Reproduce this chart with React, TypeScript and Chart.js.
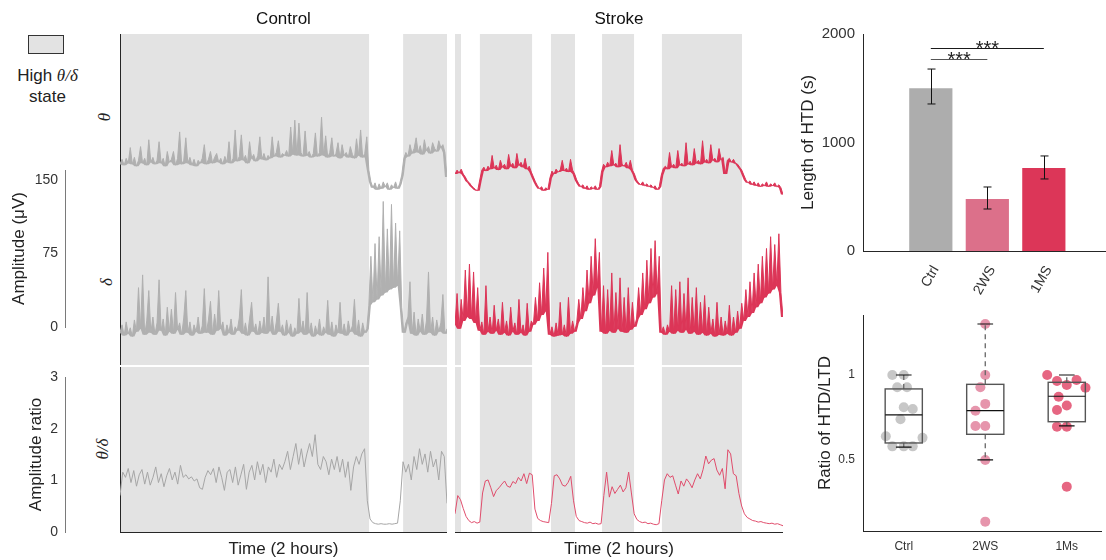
import React, { useEffect, useRef } from 'react';
import { Chart, registerables } from 'chart.js';

Chart.register(...registerables);

const FONT = "'Liberation Sans', Arial, Helvetica, sans-serif";
const SERIF = "'Liberation Serif', 'DejaVu Serif', serif";
Chart.defaults.font.family = FONT;
Chart.defaults.color = '#333';

// ---------------- Data ----------------
const TIME_SPAN = 120; // minutes (2 hours)

// High theta/delta state intervals (minutes)
const ctrlHighStates = [[0, 91.4], [103.9, 120]];
const strokeHighStates = [[0, 2.2], [9.1, 28.2], [35.1, 43.9], [53.8, 65.5], [75.7, 105.0]];

// Amplitudes (uV), stacked with offsets below
const ctrlTheta = [
  46, 51, 45, 52, 47, 63, 46, 53, 44, 50,
  64, 47, 52, 45, 71, 48, 53, 46, 50, 69,
  47, 52, 44, 59, 48, 51, 59, 45, 52, 79,
  46, 50, 73, 47, 53, 45, 51, 44, 50, 47,
  52, 66, 46, 51, 59, 47, 53, 57, 48, 52,
  46, 54, 48, 69, 47, 52, 81, 49, 54, 76,
  50, 55, 47, 69, 52, 56, 49, 55, 74, 51,
  57, 50, 55, 52, 74, 54, 58, 70, 53, 57,
  55, 60, 54, 84, 56, 91, 55, 88, 58, 54,
  80, 55, 59, 53, 57, 78, 54, 58, 94, 55,
  75, 53, 58, 73, 54, 57, 68, 52, 66, 55,
  58, 53, 64, 56, 52, 72, 55, 81, 53, 57,
  74, 40, 28, 22, 27, 20, 26, 21, 28, 23,
  27, 20, 25, 22, 28, 21, 26, 35, 52, 58,
  54, 66, 57, 62, 73, 58, 65, 56, 71, 60,
  64, 57, 68, 62, 59, 70, 63, 66, 58, 33,
];

const ctrlDelta = [
  14, 22, 11, 25, 13, 19, 10, 27, 15, 60,
  18, 73, 12, 26, 57, 14, 30, 12, 24, 68,
  16, 28, 11, 40, 15, 38, 13, 55, 17, 24,
  12, 29, 57, 14, 25, 11, 22, 15, 30, 13,
  21, 59, 14, 27, 46, 12, 33, 16, 57, 18,
  25, 11, 22, 14, 28, 12, 20, 16, 29, 58,
  13, 24, 11, 28, 45, 15, 23, 12, 26, 14,
  30, 13, 71, 16, 31, 12, 25, 44, 15, 22,
  11, 27, 14, 23, 10, 19, 13, 49, 15, 26,
  12, 55, 14, 24, 10, 21, 13, 28, 11, 20,
  14, 47, 12, 25, 10, 22, 14, 45, 13, 23,
  11, 26, 15, 21, 48, 12, 27, 10, 24, 14,
  18, 42, 92, 45, 105, 48, 112, 52, 148, 55,
  120, 58, 145, 60, 126, 62, 118, 40, 14, 24,
  30, 66, 13, 35, 11, 28, 15, 33, 12, 26,
  76, 14, 30, 11, 27, 15, 24, 53, 13, 18,
];

const ctrlRatio = [
  0.70, 1.15, 1.05, 1.22, 0.95, 1.18, 0.88, 1.10, 1.20, 0.92,
  1.15, 0.90, 1.05, 1.25, 0.95, 1.12, 0.87, 1.08, 1.22, 1.00,
  1.15, 0.92, 1.28, 1.05, 1.10, 1.02, 1.06, 0.98, 1.02, 0.85,
  0.82, 1.05, 1.18, 1.10, 1.22, 0.95, 1.25, 1.05, 0.80, 1.15,
  1.20, 0.95, 1.25, 0.90, 1.10, 1.30, 0.82, 1.15, 1.28, 1.00,
  1.35, 1.10, 1.30, 0.95, 1.25, 1.15, 1.40, 1.05, 1.30, 1.20,
  1.35, 1.55, 1.20, 1.45, 1.70, 1.30, 1.60, 1.25, 1.50, 1.70,
  1.45, 1.87, 1.30, 1.20, 1.45, 1.35, 1.10, 1.40, 1.20, 1.45,
  1.15, 1.40, 1.05, 1.35, 0.80, 1.25, 1.45, 1.30, 1.50, 1.60,
  0.60, 0.25, 0.18, 0.16, 0.15, 0.16, 0.15, 0.15, 0.16, 0.15,
  0.16, 0.17, 0.60, 1.35, 1.15, 1.30, 1.00, 1.45, 1.20, 1.60,
  1.30, 1.50, 1.15, 1.55, 1.25, 1.40, 1.00, 1.55, 1.45, 0.55,
];

const strokeTheta = [
  36, 40, 37, 41, 36, 33, 29, 27, 24, 22, 20, 19,
  30, 40, 43, 39, 44, 41, 55, 42, 45, 40, 50, 43, 46, 41, 56, 44, 47, 42, 57, 45, 48, 43, 52, 41, 44, 38,
  33, 28, 24, 21, 23, 19, 22, 20,
  32, 39, 36, 41, 38, 40, 50, 39, 42, 38, 51, 40, 36,
  30, 26, 23, 25, 21, 24, 20, 23, 21, 24, 20, 23,
  38, 46, 43, 48, 44, 60, 45, 47, 43, 66, 46, 44, 48, 42, 50, 40, 36,
  30, 27, 25, 28, 24, 26, 23, 25, 22, 24, 20, 23,
  35, 42, 44, 41, 58, 43, 46, 42, 60, 45, 47, 44, 68, 46, 49, 45, 62, 47, 50, 46,
  70, 48, 51, 47, 66, 50, 52, 48, 62, 51, 53, 36, 50, 52, 48, 51, 47, 46, 43, 40,
  35, 30, 27, 29, 25, 28, 24, 27, 23, 26, 24, 28, 23, 26, 24, 27, 23, 25, 22, 15,
];

const strokeDelta = [
  22, 54, 18, 48, 26, 78, 30, 84, 28, 76, 24, 60,
  16, 25, 12, 62, 15, 30, 13, 42, 16, 28, 12, 45, 14, 26, 11, 40, 15, 24, 12, 48, 14, 22, 11, 44, 15, 26,
  22, 50, 26, 65, 32, 80, 36, 96,
  12, 20, 10, 24, 11, 45, 12, 22, 10, 50, 13, 26, 15,
  24, 48, 28, 60, 36, 78, 44, 92, 52, 110, 60, 96,
  15, 62, 13, 58, 16, 75, 14, 55, 18, 70, 15, 50, 14, 60, 17, 45, 20,
  28, 60, 32, 75, 38, 88, 44, 100, 50, 108, 54, 92,
  14, 20, 12, 22, 15, 62, 13, 58, 16, 66, 14, 54, 17, 70, 13, 50, 15, 60, 12, 45,
  14, 52, 11, 40, 13, 28, 10, 45, 12, 30, 11, 26, 13, 42, 11, 30, 14, 36, 18, 44,
  26, 58, 30, 66, 34, 75, 40, 84, 44, 92, 50, 100, 54, 112, 58, 104, 62, 115, 55, 30,
];

const strokeRatio = [
  0.35, 0.70, 0.62, 0.45, 0.30, 0.22, 0.18, 0.20, 0.17, 0.19,
  0.75, 0.98, 1.00, 0.85, 0.68, 0.80, 0.85, 0.92, 0.98, 0.88,
  0.86, 0.97, 0.93, 1.05, 0.98, 1.12, 0.93, 1.13, 1.10, 0.44,
  0.26, 0.22, 0.20, 0.19, 0.18, 0.55, 1.08, 1.10, 1.02, 0.90,
  0.88, 0.95, 1.07, 0.60, 0.30, 0.22, 0.20, 0.18, 0.17, 0.19,
  0.16, 0.17, 0.15, 0.16, 0.70, 1.15, 0.67, 0.87, 0.74, 0.82,
  0.90, 0.77, 0.85, 1.15, 0.75, 0.35, 0.24, 0.20, 0.18, 0.19,
  0.16, 0.17, 0.15, 0.14, 0.16, 0.60, 1.00, 1.12, 1.05, 1.08,
  0.90, 0.73, 0.98, 0.88, 1.02, 0.95, 0.85, 1.00, 1.12, 1.02,
  1.20, 1.46, 1.31, 1.38, 1.41, 1.19, 1.09, 1.22, 0.83, 1.58,
  1.50, 1.12, 1.08, 0.74, 0.50, 0.35, 0.28, 0.25, 0.22, 0.21,
  0.19, 0.20, 0.18, 0.17, 0.16, 0.17, 0.15, 0.16, 0.14, 0.12,
];

const amplitudeTicks = [0, 75, 150];
const ratioTicks = [0, 1, 2, 3];

// Length of HTD bar chart
const barGroups = ['Ctrl', '2WS', '1MS'];
const htdMean = [1510, 489, 774];
const htdErrLow = [1355, 387, 664];
const htdErrHigh = [1677, 590, 876];
const htdTicks = [0, 1000, 2000];
// [group a, group b, line level (s), label]
const sigPairs: [number, number, number, string][] = [
  [0, 2, 1871, '***'],
  [0, 1, 1770, '***'],
];

// Ratio of HTD/LTD box plot
const boxGroups = ['Ctrl', '2WS', '1Ms'];
const ratioCtrl = [1.0, 1.0, 0.928, 0.928, 0.81, 0.8, 0.74, 0.64, 0.63, 0.58, 0.58, 0.58];
const jitterCtrl = [-0.14, 0, -0.08, 0.04, 0, 0.11, -0.04, -0.22, 0.23, -0.14, 0, 0.11];
const ratio2WS = [1.3, 1.0, 0.928, 0.83, 0.79, 0.7, 0.7, 0.5, 0.137];
const jitter2WS = [0, 0, -0.06, 0, -0.12, -0.12, 0, 0, 0];
const ratio1Ms = [1.0, 0.965, 0.941, 0.97, 0.925, 0.872, 0.82, 0.794, 0.696, 0.696, 0.343];
const jitter1Ms = [-0.24, -0.12, 0, 0.12, 0.23, -0.1, 0, -0.12, -0.12, 0, 0];
const boxQ1 = [0.6, 0.651, 0.725];
const boxMedian = [0.765, 0.79, 0.875];
const boxQ3 = [0.918, 0.945, 0.957];
const whiskerLow = [0.576, 0.5, 0.7];
const whiskerHigh = [1.0, 1.3, 1.0];
const boxTicks = [0.5, 1];

// ---------------- Styles ----------------
const SHADE = '#e3e3e3';
const AXIS = '#262626';
const CTRL_TRACE = '#b0b0b0';
const STROKE_TRACE = '#dc3557';
const CTRL_RATIO = '#a6a6a6';
const STROKE_RATIO = '#e04d6c';
const THETA_OFFSET = 120;
const DELTA_OFFSET = -20;
const TOP_MIN = -39;
const TOP_MAX = 299;
const RATIO_MAX = 3.17;
const barColors = ['#adadad', '#dc708a', '#dc3658'];
const pointColors = ['rgba(185,185,185,0.8)', 'rgba(226,130,158,0.85)', 'rgba(226,75,108,0.85)'];

const baseOpts = () => ({
  animation: false,
  responsive: false,
  maintainAspectRatio: false,
  events: [] as any[],
});

const hiddenPlugins = { legend: { display: false }, tooltip: { enabled: false } };

const toPoints = (vals: number[], offset = 0) =>
  vals.map((v, i) => ({ x: (i * TIME_SPAN) / (vals.length - 1), y: v + offset }));

// local floor of a noisy trace (minimum of each sample and its neighbours)
const floorOf = (vals: number[]) =>
  vals.map((_, i) => Math.min(...vals.slice(Math.max(0, i - 1), i + 2)));

const traceDs = (vals: number[], offset: number, color: string, width = 1) => ({
  data: toPoints(vals, offset),
  borderColor: color,
  borderWidth: width,
  pointRadius: 0,
  tension: 0,
  fill: false,
});

// noisy band: invisible floor dataset + the trace filled down to it
const bandDs = (vals: number[], offset: number, color: string, floorIndex: number) => [
  {
    data: toPoints(floorOf(vals), offset),
    borderColor: color,
    borderWidth: 0,
    pointRadius: 0,
    tension: 0,
    fill: false,
  },
  {
    data: toPoints(vals, offset),
    borderColor: color,
    backgroundColor: color,
    borderWidth: 1,
    pointRadius: 0,
    tension: 0,
    fill: { target: floorIndex },
  },
];

const shadePlugin = (intervals: number[][]) => ({
  id: 'shade',
  beforeDraw(chart: any) {
    const { ctx, chartArea: a, scales } = chart;
    const x = scales.x;
    ctx.save();
    ctx.fillStyle = SHADE;
    intervals.forEach(([s, e]) => {
      const x1 = x.getPixelForValue(s);
      const x2 = x.getPixelForValue(e);
      ctx.fillRect(x1, a.top, x2 - x1, a.bottom - a.top);
    });
    ctx.restore();
  },
});

const leftAxis = (show: boolean, min: number, max: number) => ({
  type: 'linear',
  min,
  max,
  display: show,
  ticks: { display: false },
  grid: { display: false, drawTicks: false },
  border: { display: true, color: AXIS, width: 1 },
  afterFit: (s: any) => {
    s.width = 0;
  },
});

function panelTop(title: string, theta: number[], delta: number[], color: string, states: number[][], showAxis: boolean) {
  return {
    type: 'line',
    data: {
      datasets: [...bandDs(theta, THETA_OFFSET, color, 0), ...bandDs(delta, DELTA_OFFSET, color, 2)],
    },
    options: {
      ...baseOpts(),
      layout: { padding: 0 },
      plugins: {
        ...hiddenPlugins,
        filler: { propagate: false },
        title: {
          display: true,
          text: title,
          color: '#111',
          font: { size: 17, weight: 'normal', family: FONT, lineHeight: 1.2 },
          padding: { top: 9, bottom: 4.6 },
        },
      },
      scales: {
        x: { type: 'linear', min: 0, max: TIME_SPAN, display: false },
        y: leftAxis(showAxis, TOP_MIN, TOP_MAX),
      },
    },
    plugins: [shadePlugin(states)],
  };
}

function panelBottom(ratio: number[], color: string, states: number[][], showAxis: boolean) {
  return {
    type: 'line',
    data: { datasets: [traceDs(ratio, 0, color)] },
    options: {
      ...baseOpts(),
      layout: { padding: 0 },
      plugins: { ...hiddenPlugins },
      scales: {
        x: {
          type: 'linear',
          min: 0,
          max: TIME_SPAN,
          ticks: { display: false },
          grid: { display: false, drawTicks: false },
          border: { display: true, color: AXIS, width: 1 },
          title: {
            display: true,
            text: 'Time (2 hours)',
            color: '#222',
            font: { size: 17, lineHeight: 1.2 },
            padding: { top: 0, bottom: 0 },
          },
          afterFit: (s: any) => {
            s.height = 28;
          },
        },
        y: leftAxis(showAxis, 0, RATIO_MAX),
      },
    },
    plugins: [shadePlugin(states)],
  };
}

function scaleBar(min: number, max: number, ticks: number[], title: string, padTop: number) {
  return {
    type: 'line',
    data: { labels: [], datasets: [] },
    options: {
      ...baseOpts(),
      layout: { padding: { top: 20, bottom: 20, left: 0, right: 0 } },
      plugins: { ...hiddenPlugins },
      scales: {
        x: { display: false },
        y: {
          type: 'linear',
          min,
          max,
          afterBuildTicks: (s: any) => {
            s.ticks = ticks.map((v) => ({ value: v }));
          },
          ticks: { font: { size: 14 }, color: '#333', padding: 7, callback: (v: any) => String(v) },
          grid: { display: false, drawTicks: false },
          border: { display: true, color: '#7a7a7a', width: 1 },
          title: {
            display: true,
            text: title,
            color: '#222',
            font: { size: 17, lineHeight: 1.2 },
            padding: { top: padTop, bottom: 0 },
          },
          afterFit: (s: any) => {
            s.width = 65;
          },
        },
      },
    },
  };
}

const barDecor = {
  id: 'barDecor',
  afterDatasetsDraw(chart: any) {
    const { ctx } = chart;
    const { x, y } = chart.scales;
    ctx.save();
    ctx.strokeStyle = '#111';
    ctx.lineWidth = 1;
    htdMean.forEach((_, i) => {
      const px = Math.round(x.getPixelForValue(i + 1)) + 0.5;
      const yl = y.getPixelForValue(htdErrLow[i]);
      const yh = y.getPixelForValue(htdErrHigh[i]);
      ctx.beginPath();
      ctx.moveTo(px, yl);
      ctx.lineTo(px, yh);
      ctx.moveTo(px - 4, yl);
      ctx.lineTo(px + 4, yl);
      ctx.moveTo(px - 4, yh);
      ctx.lineTo(px + 4, yh);
      ctx.stroke();
    });
    sigPairs.forEach(([a, b, level, label], k) => {
      const x1 = x.getPixelForValue(a + 1);
      const x2 = x.getPixelForValue(b + 1);
      const py = Math.round(y.getPixelForValue(level)) + 0.5;
      ctx.strokeStyle = k === 0 ? '#1a1a1a' : '#555';
      ctx.lineWidth = 1.2;
      ctx.beginPath();
      ctx.moveTo(x1, py);
      ctx.lineTo(x2, py);
      ctx.stroke();
      ctx.fillStyle = '#222';
      ctx.font = `20px ${FONT}`;
      ctx.textAlign = 'center';
      ctx.textBaseline = 'alphabetic';
      ctx.fillText(label, (x1 + x2) / 2, py + 6.5);
    });
    ctx.restore();
  },
};

const boxDecor = {
  id: 'boxDecor',
  afterDatasetsDraw(chart: any) {
    const { ctx } = chart;
    const { x, y } = chart.scales;
    const halfBox = 0.228;
    const halfCap = 0.096;
    ctx.save();
    boxGroups.forEach((_, i) => {
      const c = i + 1;
      const xl = x.getPixelForValue(c - halfBox);
      const xr = x.getPixelForValue(c + halfBox);
      const xc = x.getPixelForValue(c);
      const cl = x.getPixelForValue(c - halfCap);
      const cr = x.getPixelForValue(c + halfCap);
      const yq1 = y.getPixelForValue(boxQ1[i]);
      const yq3 = y.getPixelForValue(boxQ3[i]);
      const ym = y.getPixelForValue(boxMedian[i]);
      const ywl = y.getPixelForValue(whiskerLow[i]);
      const ywh = y.getPixelForValue(whiskerHigh[i]);
      ctx.strokeStyle = '#666';
      ctx.lineWidth = 1.3;
      ctx.setLineDash([5, 4]);
      ctx.beginPath();
      ctx.moveTo(xc, yq3);
      ctx.lineTo(xc, ywh);
      ctx.moveTo(xc, yq1);
      ctx.lineTo(xc, ywl);
      ctx.stroke();
      ctx.setLineDash([]);
      ctx.strokeStyle = '#111';
      ctx.lineWidth = 1.2;
      ctx.beginPath();
      ctx.moveTo(cl, ywh);
      ctx.lineTo(cr, ywh);
      ctx.moveTo(cl, ywl);
      ctx.lineTo(cr, ywl);
      ctx.stroke();
      ctx.strokeStyle = '#555';
      ctx.lineWidth = 1.4;
      ctx.strokeRect(xl, yq3, xr - xl, yq1 - yq3);
      ctx.strokeStyle = '#111';
      ctx.lineWidth = 1.2;
      ctx.beginPath();
      ctx.moveTo(xl, ym);
      ctx.lineTo(xr, ym);
      ctx.stroke();
    });
    ctx.restore();
  },
};

function barConfig() {
  return {
    type: 'bar',
    data: {
      datasets: [
        {
          data: barGroups.map((_, i) => ({ x: i + 1, y: htdMean[i] })),
          backgroundColor: barColors,
          borderColor: 'rgba(255,255,255,0.75)',
          borderWidth: 1,
          barPercentage: 0.8,
          categoryPercentage: 1,
        },
      ],
    },
    options: {
      ...baseOpts(),
      layout: { padding: { top: 20, left: 0, right: 0, bottom: 0 } },
      plugins: { ...hiddenPlugins },
      scales: {
        x: {
          type: 'linear',
          offset: false,
          min: -0.2,
          max: 4.1,
          afterBuildTicks: (s: any) => {
            s.ticks = barGroups.map((_, i) => ({ value: i + 1 }));
          },
          ticks: {
            callback: (v: any) => barGroups[Math.round(v) - 1] ?? '',
            minRotation: 60,
            maxRotation: 60,
            autoSkip: false,
            font: { size: 14 },
            color: '#333',
            padding: 12,
            labelOffset: 5,
          },
          grid: { display: false, drawTicks: false, offset: false },
          border: { display: true, color: AXIS, width: 1 },
          afterFit: (s: any) => {
            s.height = 50;
          },
        },
        y: {
          type: 'linear',
          min: 0,
          max: 2000,
          afterBuildTicks: (s: any) => {
            s.ticks = htdTicks.map((v) => ({ value: v }));
          },
          ticks: { font: { size: 15 }, color: '#333', padding: 8, callback: (v: any) => String(v) },
          grid: { display: false, drawTicks: false },
          border: { display: true, color: AXIS, width: 1 },
          title: {
            display: true,
            text: 'Length of HTD (s)',
            color: '#222',
            font: { size: 17, lineHeight: 1.2 },
            padding: { top: 7.8, bottom: 0 },
          },
          afterFit: (s: any) => {
            s.width = 73;
          },
        },
      },
    },
    plugins: [barDecor],
  };
}

function boxConfig() {
  const groups = [
    [ratioCtrl, jitterCtrl],
    [ratio2WS, jitter2WS],
    [ratio1Ms, jitter1Ms],
  ];
  return {
    type: 'scatter',
    data: {
      datasets: groups.map(([vals, jit], gi) => ({
        data: vals.map((v, k) => ({ x: gi + 1 + jit[k], y: v })),
        backgroundColor: pointColors[gi],
        borderWidth: 0,
        pointRadius: 5,
      })),
    },
    options: {
      ...baseOpts(),
      layout: { padding: { top: 20, left: 0, right: 0, bottom: 0 } },
      plugins: { ...hiddenPlugins },
      scales: {
        x: {
          type: 'linear',
          min: 0.5,
          max: 3.42,
          afterBuildTicks: (s: any) => {
            s.ticks = boxGroups.map((_, i) => ({ value: i + 1 }));
          },
          ticks: {
            callback: (v: any) => boxGroups[Math.round(v) - 1] ?? '',
            maxRotation: 0,
            minRotation: 0,
            autoSkip: false,
            font: { size: 12 },
            color: '#333',
            padding: 8,
          },
          grid: { display: false, drawTicks: false },
          border: { display: true, color: AXIS, width: 1 },
          afterFit: (s: any) => {
            s.height = 29;
          },
        },
        y: {
          type: 'linear',
          min: 0.082,
          max: 1.353,
          afterBuildTicks: (s: any) => {
            s.ticks = boxTicks.map((v) => ({ value: v }));
          },
          ticks: { font: { size: 12 }, color: '#333', padding: 8, callback: (v: any) => String(v) },
          grid: { display: false, drawTicks: false },
          border: { display: true, color: AXIS, width: 1 },
          title: {
            display: true,
            text: 'Ratio of HTD/LTD',
            color: '#222',
            font: { size: 17, lineHeight: 1.2 },
            padding: { top: 25.4, bottom: 0 },
          },
          afterFit: (s: any) => {
            s.width = 73;
          },
        },
      },
    },
    plugins: [boxDecor],
  };
}

function ChartCanvas({ left, top, width, height, build }: { left: number; top: number; width: number; height: number; build: () => any }) {
  const ref = useRef<HTMLCanvasElement | null>(null);
  useEffect(() => {
    if (!ref.current) return;
    const chart = new Chart(ref.current, build());
    return () => chart.destroy();
  }, []);
  return (
    <canvas
      ref={ref}
      width={width}
      height={height}
      style={{ position: 'absolute', left, top, width, height, display: 'block' }}
    />
  );
}

function RotLabel({ cx, cy, children, size = 17 }: { cx: number; cy: number; children: any; size?: number }) {
  return (
    <div
      style={{
        position: 'absolute',
        left: cx,
        top: cy,
        transform: 'translate(-50%, -50%) rotate(-90deg)',
        fontFamily: SERIF,
        fontStyle: 'italic',
        fontSize: size,
        color: '#222',
        whiteSpace: 'nowrap',
        lineHeight: 1,
      }}
    >
      {children}
    </div>
  );
}

export default function App() {
  return (
    <div
      style={{
        position: 'fixed',
        left: 0,
        top: 0,
        width: 1106,
        height: 560,
        overflow: 'hidden',
        background: '#fff',
        fontFamily: FONT,
      }}
    >
      <div
        style={{
          position: 'absolute',
          left: 28,
          top: 35,
          width: 36,
          height: 19,
          boxSizing: 'border-box',
          border: '1px solid #333',
          background: SHADE,
        }}
      />
      <div
        style={{
          position: 'absolute',
          left: 0,
          top: 65,
          width: 95,
          textAlign: 'center',
          fontSize: 17,
          lineHeight: '21px',
          color: '#222',
        }}
      >
        High <span style={{ fontFamily: SERIF, fontStyle: 'italic' }}>θ/δ</span>
        <br />
        state
      </div>

      <ChartCanvas left={0} top={150} width={70} height={197} build={() => scaleBar(0, 160, amplitudeTicks, 'Amplitude (μV)', 8.8)} />
      <ChartCanvas left={0} top={357} width={70} height={195} build={() => scaleBar(0, 3, ratioTicks, 'Amplitude ratio', 26.5)} />

      <RotLabel cx={104} cy={117}>θ</RotLabel>
      <RotLabel cx={106} cy={282}>δ</RotLabel>
      <RotLabel cx={102} cy={449}>θ/δ</RotLabel>

      <ChartCanvas left={120} top={0} width={327} height={365} build={() => panelTop('Control', ctrlTheta, ctrlDelta, CTRL_TRACE, ctrlHighStates, true)} />
      <ChartCanvas left={120} top={367} width={327} height={193} build={() => panelBottom(ctrlRatio, CTRL_RATIO, ctrlHighStates, true)} />

      <ChartCanvas left={455} top={0} width={328} height={365} build={() => panelTop('Stroke', strokeTheta, strokeDelta, STROKE_TRACE, strokeHighStates, false)} />
      <ChartCanvas left={455} top={367} width={328} height={193} build={() => panelBottom(strokeRatio, STROKE_RATIO, strokeHighStates, false)} />

      <ChartCanvas left={790} top={14} width={316} height={287} build={barConfig} />

      <ChartCanvas left={790} top={295} width={316} height={265} build={boxConfig} />
    </div>
  );
}
